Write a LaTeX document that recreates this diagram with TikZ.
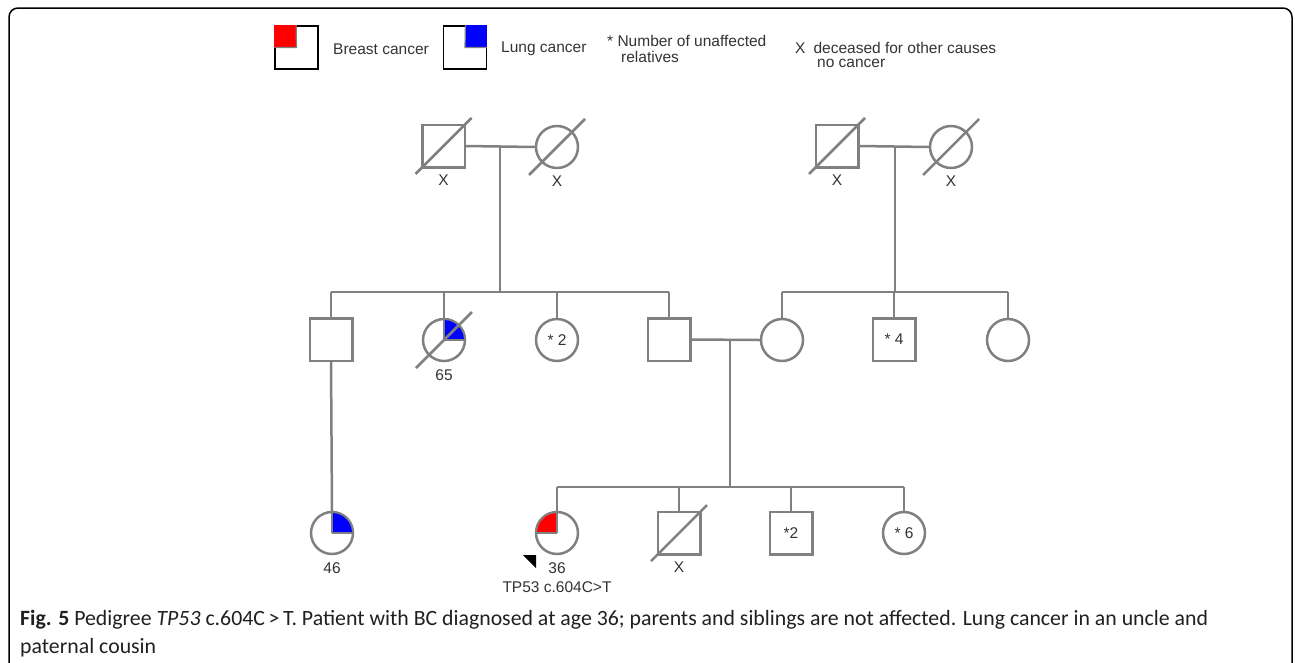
\documentclass[tikz,border=0pt]{standalone}
\usepackage{fontspec}
\setmainfont{Liberation Sans}
\newfontfamily\capfont{Carlito}
\usetikzlibrary{positioning,calc}
\definecolor{pedgray}{HTML}{808080}
\definecolor{txtgray}{HTML}{333333}
\definecolor{captgray}{HTML}{231F20}
\definecolor{lungblue}{HTML}{0000FF}
\definecolor{breastred}{HTML}{FF0000}
\tikzset{
  male/.style={draw=pedgray, line width=2.5pt, rectangle, minimum size=42.5pt, inner sep=0pt, lbl},
  female/.style={draw=pedgray, line width=2.5pt, circle, minimum size=42pt, inner sep=0pt, lbl},
  ped/.style={draw=pedgray, line width=2.5pt},
  lbl/.style={text=txtgray, font=\fontsize{15.5}{18}\selectfont, inner sep=0pt},
  legbox/.style={draw=black, line width=1.8pt, rectangle, minimum size=43pt, inner sep=0pt},
  captxt/.style={text=captgray, font=\capfont\fontsize{21.8}{25}\selectfont, inner sep=0pt, anchor=west}
}
\newcommand\deadslash[1]{\draw[ped] ($(#1.center)+(-28,28)$) -- ($(#1.center)+(28,-28)$);}
\newcommand\quadfill[3]{%
  \begin{scope}
    \clip (#1.center) circle[radius=20];
    \fill[#2] (#1.center) rectangle +({#3*25},-25);
  \end{scope}
  \draw[pedgray, line width=1.5pt] (#1.center) -- +(0,-20);
  \draw[pedgray, line width=1.5pt] (#1.center) -- +({#3*20},0);}
\begin{document}
\begin{tikzpicture}[x=1pt, y=-1pt]
\useasboundingbox (0,0) rectangle (1295,662);
\draw[black, line width=1.5pt, rounded corners=9pt] (9,8) rectangle (1292,720);

\node[legbox] (legbc) at (296.5,47.5) {};
\fill[breastred] (legbc.north west) rectangle (legbc.center);
\draw[pedgray, line width=1.2pt] ($(legbc.north west)+(22,0)$) -- (legbc.center) -- ($(legbc.center)+(-22,0)$);
\node[lbl, anchor=west] (legbctxt) at (333,49) {Breast cancer};
\node[legbox] (leglc) at (465,47.5) {};
\fill[lungblue] (leglc.north east) rectangle (leglc.center);
\draw[pedgray, line width=1.2pt] ($(leglc.north east)+(-22,0)$) -- (leglc.center) -- ($(leglc.center)+(22,0)$);
\node[lbl, anchor=west] (leglctxt) at (501,49) {Lung cancer};
\node[lbl, anchor=west] (legnum) at (607,41) {* Number of unaffected};
\node[lbl, anchor=west] (legnumb) at (621,57) {relatives};
\node[lbl, anchor=west] (legx) at (795,48) {X\hspace{8pt}deceased for other causes};
\node[lbl, anchor=west] (legxb) at (817,63) {no cancer};

\node[male] (gfa) at (443.5,146) {};
\node[female] (gma) at (557,147) {};
\node[male] (gfb) at (837,146) {};
\node[female] (gmb) at (951,147) {};
\foreach \p in {gfa,gma,gfb,gmb} {
  \deadslash{\p}
  \node[lbl] at ($(\p.center)+(0,34)$) {X};
}
\draw[ped] (gfa.east) -- (gma.west);
\draw[ped] (gfb.east) -- (gmb.west);
\coordinate (pma) at (500,147);
\coordinate (pmb) at (895,147);
\coordinate (sibl) at (500,292);
\coordinate (sibr) at (895,292);

\node[male] (uncle) at (331,339.5) {};
\node[female] (aunta) at (444,340) {};
\node[female] (auntb) at (557,340) {* 2};
\node[male] (father) at (669,339.5) {};
\node[female] (mother) at (782,340) {};
\node[male] (muncle) at (894,339.5) {* 4};
\node[female] (maunt) at (1008,340) {};
\quadfill{aunta}{lungblue}{1}
\deadslash{aunta}
\node[lbl] (auntaage) at ($(aunta.center)+(0,35)$) {65};
\draw[ped] (pma) -- (sibl);
\draw[ped] (pmb) -- (sibr);
\draw[ped] (uncle.north |- sibl) -- (father.north |- sibl);
\draw[ped] (mother.north |- sibr) -- (maunt.north |- sibr);
\foreach \c in {uncle,aunta,auntb,father} \draw[ped] (\c.north |- sibl) -- (\c.north);
\foreach \c in {mother,muncle,maunt} \draw[ped] (\c.north |- sibr) -- (\c.north);
\draw[ped] (father.east) -- (mother.west);
\coordinate (pmc) at (730,340);
\coordinate (sibc) at (730,487);

\node[female] (cousin) at (332,533) {};
\quadfill{cousin}{lungblue}{1}
\node[lbl] (cousinage) at ($(cousin.center)+(0,35)$) {46};
\draw[ped] (uncle.south) -- (cousin.north);

\node[female] (proband) at (557,533) {};
\node[male] (bro) at (679,533) {};
\node[male] (sibm) at (791,533) {*2};
\node[female] (sibf) at (904,533) {* 6};
\quadfill{proband}{breastred}{-1}
\deadslash{bro}
\node[lbl] (brox) at ($(bro.center)+(0,34)$) {X};
\node[lbl] (probage) at ($(proband.center)+(0,35)$) {36};
\node[lbl] (probmut) at ($(proband.center)+(0,54)$) {TP53 c.604C>T};
\fill[black] ($(proband.center)+(-34,22)$) -- ($(proband.center)+(-21,22)$) -- ($(proband.center)+(-21,35)$) -- cycle;
\draw[ped] (pmc) -- (sibc);
\draw[ped] (proband.north |- sibc) -- (sibf.north |- sibc);
\foreach \c in {proband,bro,sibm,sibf} \draw[ped] (\c.north |- sibc) -- (\c.north);

\node[captxt] (capa) at (20,620) {\textbf{Fig. 5} Pedigree \textit{TP53} c.604C\,>\,T. Patient with BC diagnosed at age 36; parents and siblings are not affected. Lung cancer in an uncle and};
\node[captxt] (capb) at (20,648) {paternal cousin};
\end{tikzpicture}
\end{document}
